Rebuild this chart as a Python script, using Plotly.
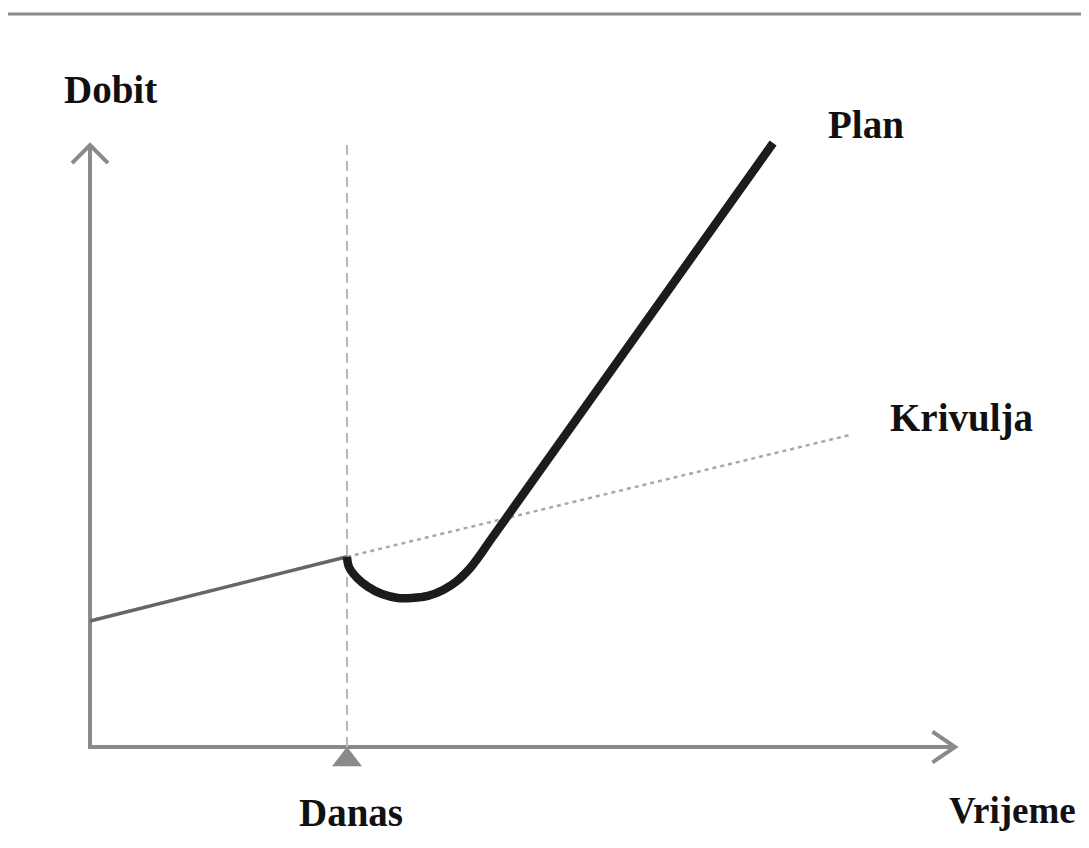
import plotly.graph_objects as go

# os x = vrijeme, os y = dobit; ishodište osi je (0, 0)
danas_x = 10.0
proslost_x = [0.0, 10.0]
proslost_y = [4.9, 7.4]
krivulja_x = [10.0, 29.6]
krivulja_y = [7.4, 12.15]
plan_x = [10.0, 10.08, 10.39, 10.82, 11.36, 11.98, 12.53, 13.15, 13.74, 14.28,
          14.79, 15.21, 15.56, 26.58]
plan_y = [7.4, 7.00, 6.58, 6.23, 5.95, 5.80, 5.80, 5.88, 6.11, 6.46,
          6.96, 7.51, 8.02, 23.50]
os_x_kraj = 33.66
os_y_kraj = 23.42
danas_vrh = 23.6

S = 25.7  # px po jedinici
W, H = 1089, 848
PAD = 8  # rub stranice (body margin)
X0, Y0 = 90, 747  # ishodište u pikselima prozora

GRAY = "#8a8a8a"
FONT = dict(family="Liberation Serif, Times New Roman, serif", size=39, color="#111111")

fig = go.Figure()

# osi sa strelicama
kx, ky = 0.88, 0.6
fig.add_trace(go.Scatter(
    x=[0, 0, os_x_kraj], y=[os_y_kraj, 0, 0], mode="lines",
    line=dict(color=GRAY, width=4), hoverinfo="skip",
))
fig.add_trace(go.Scatter(
    x=[-0.7, 0, 0.7], y=[os_y_kraj - 0.7, os_y_kraj, os_y_kraj - 0.7], mode="lines",
    line=dict(color=GRAY, width=4), hoverinfo="skip",
))
fig.add_trace(go.Scatter(
    x=[os_x_kraj - kx, os_x_kraj, os_x_kraj - kx], y=[ky, 0, -ky], mode="lines",
    line=dict(color=GRAY, width=4), hoverinfo="skip",
))

# okomita crta "Danas"
fig.add_trace(go.Scatter(
    x=[danas_x, danas_x], y=[0, danas_vrh], mode="lines",
    line=dict(color="#b8b8b8", width=2, dash="10px,6px"), hoverinfo="skip",
))
fig.add_trace(go.Scatter(
    x=[danas_x], y=[-0.5], mode="markers",
    marker=dict(symbol="triangle-up", size=26, color=GRAY), hoverinfo="skip",
))

# dosadašnja dobit i nastavak trenda
fig.add_trace(go.Scatter(
    x=proslost_x, y=proslost_y, mode="lines",
    line=dict(color="#666666", width=3.5), hoverinfo="skip",
))
fig.add_trace(go.Scatter(
    x=krivulja_x, y=krivulja_y, mode="lines",
    line=dict(color="#a8a8a8", width=2.5, dash="4px,4px"), hoverinfo="skip",
))

# plan
fig.add_trace(go.Scatter(
    x=plan_x, y=plan_y, mode="lines",
    line=dict(color="#1c1c1c", width=8.5, shape="spline", smoothing=1.0),
    hoverinfo="skip",
))


def px(x):
    return (x - X0) / S


def py(y):
    return (Y0 - y) / S


labels = [
    ("Dobit", 110, 89, 39),
    ("Plan", 866, 124, 39),
    ("Krivulja", 961, 418, 39),
    ("Danas", 351, 812, 39),
    ("Vrijeme", 1012, 810, 37),
]
for txt, lx, ly, fs in labels:
    fig.add_annotation(
        x=px(lx), y=py(ly), text=f"<b>{txt}</b>", showarrow=False,
        font={**FONT, "size": fs}, xanchor="center", yanchor="middle",
    )

fw, fh = W - 2 * PAD, H - 2 * PAD
fig.update_layout(
    width=fw, height=fh,
    margin=dict(l=0, r=0, t=0, b=0),
    paper_bgcolor="white", plot_bgcolor="white",
    showlegend=False,
    shapes=[dict(
        type="line", xref="paper", yref="paper",
        x0=0, x1=(1085 - PAD) / fw,
        y0=1 - (14 - PAD) / fh, y1=1 - (14 - PAD) / fh,
        line=dict(color=GRAY, width=3),
    )],
)
fig.update_xaxes(visible=False, range=[px(PAD), px(W - PAD)], fixedrange=True)
fig.update_yaxes(visible=False, range=[py(H - PAD), py(PAD)], fixedrange=True)

fig.write_html("out.html")
